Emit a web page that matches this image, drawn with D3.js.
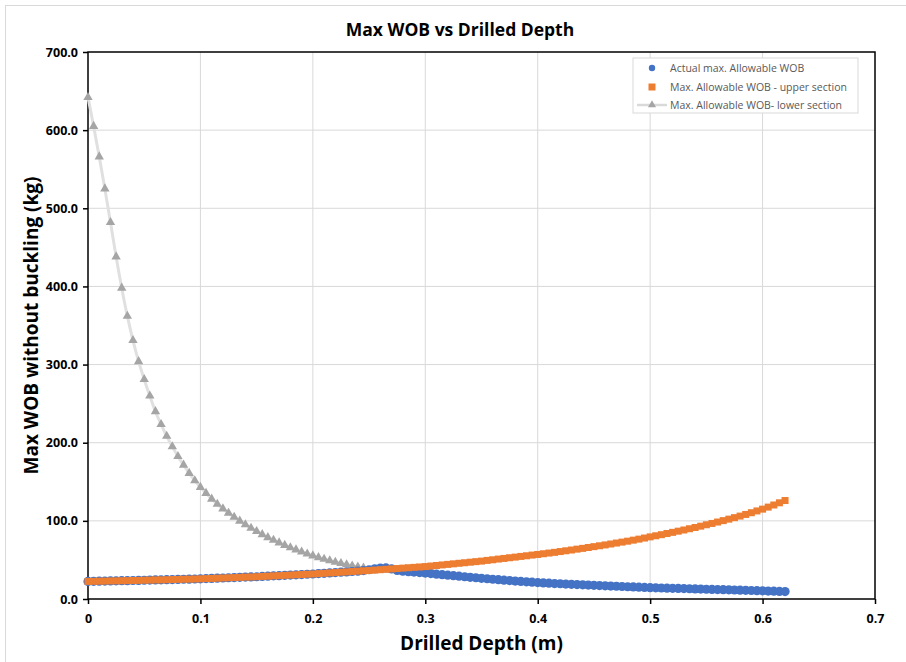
<!DOCTYPE html>
<html>
<head>
<meta charset="utf-8">
<script src="https://cdn.jsdelivr.net/npm/d3@7"></script>
<style>
  body { margin: 0; background: #fff; }
  text { font-family: "Open Sans", "Liberation Sans", sans-serif; }
  .tick text { font-weight: bold; font-size: 12.5px; fill: #000; }
  .legendtext { font-size: 10.5px; fill: #595959; }
</style>
</head>
<body>
<div id="chart-area"></div>
<script>
// depth samples (m), 0.005 m apart
var depth = [
  0.000, 0.005, 0.010, 0.015, 0.020, 0.025, 0.030, 0.035, 0.040, 0.045,
  0.050, 0.055, 0.060, 0.065, 0.070, 0.075, 0.080, 0.085, 0.090, 0.095,
  0.100, 0.105, 0.110, 0.115, 0.120, 0.125, 0.130, 0.135, 0.140, 0.145,
  0.150, 0.155, 0.160, 0.165, 0.170, 0.175, 0.180, 0.185, 0.190, 0.195,
  0.200, 0.205, 0.210, 0.215, 0.220, 0.225, 0.230, 0.235, 0.240, 0.245,
  0.250, 0.255, 0.260, 0.265, 0.270, 0.275, 0.280, 0.285, 0.290, 0.295,
  0.300, 0.305, 0.310, 0.315, 0.320, 0.325, 0.330, 0.335, 0.340, 0.345,
  0.350, 0.355, 0.360, 0.365, 0.370, 0.375, 0.380, 0.385, 0.390, 0.395,
  0.400, 0.405, 0.410, 0.415, 0.420, 0.425, 0.430, 0.435, 0.440, 0.445,
  0.450, 0.455, 0.460, 0.465, 0.470, 0.475, 0.480, 0.485, 0.490, 0.495,
  0.500, 0.505, 0.510, 0.515, 0.520, 0.525, 0.530, 0.535, 0.540, 0.545,
  0.550, 0.555, 0.560, 0.565, 0.570, 0.575, 0.580, 0.585, 0.590, 0.595,
  0.600, 0.605, 0.610, 0.615, 0.620
];

// Actual max. allowable WOB (kg)
var actualWob = [
  22.5, 22.6, 22.8, 22.9, 23.1, 23.2, 23.4, 23.5, 23.7, 23.8,
  24.0, 24.2, 24.4, 24.5, 24.7, 24.9, 25.1, 25.3, 25.4, 25.6,
  25.8, 26.1, 26.3, 26.6, 26.9, 27.2, 27.4, 27.7, 28.0, 28.2,
  28.5, 28.9, 29.2, 29.6, 29.9, 30.3, 30.6, 31.0, 31.3, 31.7,
  32.0, 32.5, 32.9, 33.4, 33.8, 34.3, 34.7, 35.2, 35.6, 36.4,
  37.4, 38.6, 39.6, 39.8, 38.5, 36.5, 35.5, 35.0, 34.4, 33.8,
  33.2, 32.5, 31.8, 31.1, 30.5, 29.8, 29.2, 28.5, 27.8, 27.2,
  26.5, 25.9, 25.3, 24.7, 24.1, 23.6, 23.0, 22.5, 22.0, 21.5,
  21.0, 20.6, 20.2, 19.8, 19.5, 19.1, 18.8, 18.5, 18.1, 17.8,
  17.5, 17.2, 16.9, 16.6, 16.3, 16.0, 15.7, 15.4, 15.1, 14.8,
  14.5, 14.3, 14.1, 13.9, 13.7, 13.5, 13.3, 13.1, 12.9, 12.7,
  12.5, 12.3, 12.1, 11.9, 11.7, 11.5, 11.3, 11.1, 10.9, 10.7,
  10.5, 10.2, 10.0, 9.7, 9.5
];

// Max. allowable WOB - upper section (kg)
var upperWob = [
  22.5, 22.6, 22.8, 22.9, 23.1, 23.2, 23.4, 23.5, 23.7, 23.8,
  24.0, 24.2, 24.4, 24.5, 24.7, 24.9, 25.1, 25.3, 25.4, 25.6,
  25.8, 26.1, 26.3, 26.6, 26.9, 27.2, 27.4, 27.7, 28.0, 28.2,
  28.5, 28.9, 29.2, 29.6, 29.9, 30.3, 30.6, 31.0, 31.3, 31.7,
  32.0, 32.5, 32.9, 33.4, 33.8, 34.3, 34.7, 35.2, 35.6, 36.1,
  36.5, 37.0, 37.5, 38.0, 38.5, 39.0, 39.5, 40.0, 40.5, 41.0,
  41.5, 42.2, 42.9, 43.6, 44.3, 45.0, 45.7, 46.4, 47.1, 47.8,
  48.5, 49.4, 50.2, 51.1, 51.9, 52.8, 53.6, 54.5, 55.3, 56.2,
  57.0, 57.9, 58.8, 59.7, 60.7, 61.7, 62.7, 63.8, 64.8, 65.9,
  67.0, 68.1, 69.2, 70.4, 71.6, 72.8, 74.0, 75.3, 76.6, 78.0,
  79.5, 80.9, 82.3, 83.8, 85.3, 86.8, 88.3, 89.9, 91.5, 93.2,
  95.0, 96.7, 98.5, 100.3, 102.2, 104.1, 106.1, 108.2, 110.4, 112.7,
  115.0, 117.6, 120.3, 123.1, 126.0
];

// Max. Allowable WOB- lower section (kg), only plotted to 0.245 m
var lowerWob = [
  642.0, 605.0, 566.0, 525.0, 482.0, 438.0, 398.0, 362.0, 331.0, 304.0,
  281.0, 260.0, 240.0, 223.5, 208.5, 195.0, 182.5, 171.5, 161.0, 151.5,
  143.0, 135.3, 128.0, 121.5, 115.5, 110.0, 104.8, 99.8, 95.2, 90.8,
  86.6, 82.6, 78.8, 75.3, 72.0, 68.8, 65.8, 63.0, 60.3, 57.8,
  55.4, 53.2, 51.1, 49.1, 47.3, 45.6, 44.0, 42.5, 41.1, 39.9
];

var xTicks = [0, 0.1, 0.2, 0.3, 0.4, 0.5, 0.6, 0.7];
var yTicks = [0, 100, 200, 300, 400, 500, 600, 700];
var seriesNames = ["Actual max. Allowable WOB", "Max. Allowable WOB - upper section", "Max. Allowable WOB- lower section"];

var W = 906, H = 662;
var margin = {top: 52, right: 31, bottom: 63, left: 88};
var width = W - margin.left - margin.right,
    height = H - margin.top - margin.bottom;

var root = d3.select("#chart-area")
    .append("svg")
    .attr("width", W)
    .attr("height", H);

// chart border
root.append("rect")
    .attr("x", 5.5).attr("y", 5.5)
    .attr("width", W).attr("height", H)
    .attr("fill", "none")
    .attr("stroke", "#d9d9d9");

var svg = root.append("g")
    .attr("transform", "translate(" + margin.left + "," + margin.top + ")");

var x = d3.scaleLinear().domain([0, 0.7]).range([0, width]);
var y = d3.scaleLinear().domain([0, 700]).range([height, 0]);

// gridlines
svg.append("g")
    .selectAll("line.vgrid")
    .data(xTicks.slice(1, -1))
    .enter().append("line")
    .attr("x1", function(d) { return x(d); })
    .attr("x2", function(d) { return x(d); })
    .attr("y1", 0).attr("y2", height)
    .attr("stroke", "#d9d9d9");

svg.append("g")
    .selectAll("line.hgrid")
    .data(yTicks.slice(1, -1))
    .enter().append("line")
    .attr("x1", 0).attr("x2", width)
    .attr("y1", function(d) { return y(d); })
    .attr("y2", function(d) { return y(d); })
    .attr("stroke", "#d9d9d9");

// axes
var xAxis = svg.append("g")
    .attr("transform", "translate(0," + height + ")")
    .call(d3.axisBottom(x).tickValues(xTicks).tickSize(5).tickPadding(10)
        .tickFormat(function(d) { return d === 0 ? "0" : d3.format(".1f")(d); }));

var yAxis = svg.append("g")
    .call(d3.axisLeft(y).tickValues(yTicks).tickSize(5).tickPadding(5)
        .tickFormat(d3.format(".1f")));

svg.selectAll(".domain").remove();
svg.selectAll(".tick line").attr("stroke", "#000").attr("stroke-width", 1.5);

// plot frame
svg.append("rect")
    .attr("width", width).attr("height", height)
    .attr("fill", "none")
    .attr("stroke", "#000")
    .attr("stroke-width", 1.5);

// lower section line + triangles
var lowerData = lowerWob.map(function(v, i) { return {d: depth[i], v: v}; });
var line = d3.line()
    .x(function(p) { return x(p.d); })
    .y(function(p) { return y(p.v); })
    .curve(d3.curveCatmullRom);

svg.append("path")
    .datum(lowerData)
    .attr("d", line)
    .attr("fill", "none")
    .attr("stroke", "#e0e0e0")
    .attr("stroke-width", 3);

var tri = d3.symbol().type(d3.symbolTriangle).size(38);

svg.selectAll(".tri")
    .data(lowerData)
    .enter().append("path")
    .attr("class", "tri")
    .attr("d", tri)
    .attr("transform", function(p) { return "translate(" + x(p.d) + "," + y(p.v) + ")"; })
    .attr("fill", "#a5a5a5");

// actual (blue circles)
svg.selectAll(".dot")
    .data(actualWob)
    .enter().append("circle")
    .attr("class", "dot")
    .attr("cx", function(v, i) { return x(depth[i]); })
    .attr("cy", function(v) { return y(v); })
    .attr("r", 4.6)
    .attr("fill", "#4472c4");

// upper section (orange squares)
var sq = 7;
svg.selectAll(".sq")
    .data(upperWob)
    .enter().append("rect")
    .attr("class", "sq")
    .attr("x", function(v, i) { return x(depth[i]) - sq / 2; })
    .attr("y", function(v) { return y(v) - sq / 2; })
    .attr("width", sq).attr("height", sq)
    .attr("fill", "#ed7d31");

// titles
root.append("text")
    .attr("x", 460).attr("y", 36)
    .attr("text-anchor", "middle")
    .style("font-size", "17.5px")
    .style("font-weight", "bold")
    .text("Max WOB vs Drilled Depth");

root.append("text")
    .attr("x", margin.left + width / 2).attr("y", 650)
    .attr("text-anchor", "middle")
    .style("font-size", "19px")
    .style("font-weight", "bold")
    .text("Drilled Depth (m)");

root.append("text")
    .attr("transform", "translate(38," + (margin.top + height / 2) + ") rotate(-90)")
    .attr("text-anchor", "middle")
    .style("font-size", "19px")
    .style("font-weight", "bold")
    .text("Max WOB without buckling (kg)");

// legend
var legend = root.append("g").attr("transform", "translate(633,58)");
legend.append("rect")
    .attr("width", 225).attr("height", 55)
    .attr("fill", "#fff")
    .attr("stroke", "#d9d9d9");

var rowY = [10, 29, 47];
legend.append("circle").attr("cx", 19).attr("cy", rowY[0]).attr("r", 3.2).attr("fill", "#4472c4");
legend.append("rect").attr("x", 15.5).attr("y", rowY[1] - 3.5).attr("width", 7).attr("height", 7).attr("fill", "#ed7d31");
legend.append("line").attr("x1", 4).attr("x2", 34).attr("y1", rowY[2]).attr("y2", rowY[2])
    .attr("stroke", "#d9d9d9").attr("stroke-width", 2.5);
legend.append("path").attr("d", d3.symbol().type(d3.symbolTriangle).size(28))
    .attr("transform", "translate(19," + rowY[2] + ")").attr("fill", "#a5a5a5");

legend.selectAll(".legendtext")
    .data(seriesNames)
    .enter().append("text")
    .attr("class", "legendtext")
    .attr("x", 37)
    .attr("y", function(d, i) { return rowY[i] + 3.5; })
    .text(function(d) { return d; });
</script>
</body>
</html>
